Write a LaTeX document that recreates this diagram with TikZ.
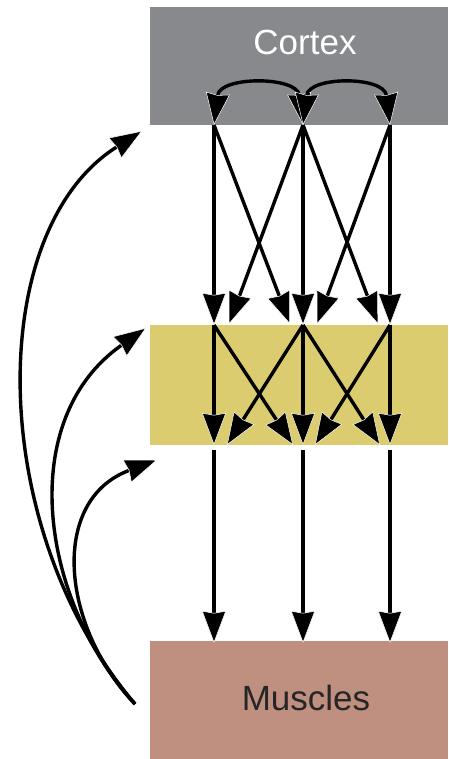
\documentclass[tikz,border=0pt]{standalone}
\usepackage{fontspec}
\setmainfont{Liberation Sans}
\usetikzlibrary{arrows.meta}
\definecolor{cortexgray}{HTML}{88898D}
\definecolor{midyellow}{HTML}{DBCD6F}
\definecolor{musclepink}{HTML}{BF8F80}
\tikzset{
  bigtip/.tip={Stealth[length=32pt,width=24pt,inset=2pt,color=white,fill=black,line width=0.5pt]}
}
\begin{document}
\begin{tikzpicture}[x=1pt,y=-1pt,
  box/.style={draw=none, minimum width=298pt, inner sep=0pt, anchor=north west},
  lbl/.style={font=\fontsize{35}{40}\selectfont, anchor=base, inner sep=0pt},
  arr/.style={line width=3.4pt, -bigtip},
  darr/.style={line width=3.4pt, bigtip-bigtip}]
\fill[white] (0,0) rectangle (448,759);
\useasboundingbox (0,0) rectangle (448,759);
% boxes
\node[box, fill=cortexgray, minimum height=118pt] (cortex) at (150,7) {};
\node[box, fill=midyellow, minimum height=120pt] (mid) at (150,325) {};
\node[box, fill=musclepink, minimum height=118pt] (muscles) at (150,641) {};
\node[lbl, text=white] (cortexlabel) at (305,55) {Cortex};
\node[lbl, text=black!85] (muscleslabel) at (306,710) {Muscles};
% coordinates
\coordinate (c1) at (214,125); \coordinate (c2) at (303,125); \coordinate (c3) at (390,125);
\coordinate (yt1) at (214,325); \coordinate (yt2) at (303,325); \coordinate (yt3) at (390,325);
\coordinate (ua) at (290,324); \coordinate (ub) at (229,324);
\coordinate (uc) at (378,324); \coordinate (ud) at (317,324);
\coordinate (yb1) at (214,445); \coordinate (yb2) at (303,445); \coordinate (yb3) at (390,445);
\coordinate (la) at (293,445); \coordinate (lb) at (227,445);
\coordinate (lc) at (380,445); \coordinate (ld) at (315,445);
\coordinate (ls1) at (214,450); \coordinate (ls2) at (303,450); \coordinate (ls3) at (390,450);
\coordinate (m1) at (214,643); \coordinate (m2) at (303,643); \coordinate (m3) at (390,643);
\coordinate (o) at (135,704);
\coordinate (tb) at (142,131); \coordinate (tm) at (146,328); \coordinate (ts) at (157,460);
% cortex to middle
\draw[arr] (c1) -- (yt1);
\draw[arr] (c2) -- (yt2);
\draw[arr] (c3) -- (yt3);
\draw[arr] (c1) -- (ua);
\draw[arr] (c2) -- (ub);
\draw[arr] (c2) -- (uc);
\draw[arr] (c3) -- (ud);
% within middle
\draw[arr] (yt1) -- (yb1);
\draw[arr] (yt2) -- (yb2);
\draw[arr] (yt3) -- (yb3);
\draw[arr] (yt1) -- (la);
\draw[arr] (yt2) -- (lb);
\draw[arr] (yt2) -- (lc);
\draw[arr] (yt3) -- (ld);
% middle to muscles
\draw[arr] (ls1) -- (m1);
\draw[arr] (ls2) -- (m2);
\draw[arr] (ls3) -- (m3);
% cortex lateral arcs
\draw[darr] (c1) .. controls (220,76) and (297,76) .. (c2);
\draw[darr] (c2) .. controls (309,76) and (384,76) .. (c3);
% feedback arcs
\draw[arr] (o) .. controls (-15,527) and (-15,230) .. (tb);
\draw[arr] (o) .. controls (40,600) and (15,420) .. (tm);
\draw[arr] (o) .. controls (60,625) and (50,500) .. (ts);
\end{tikzpicture}
\end{document}
